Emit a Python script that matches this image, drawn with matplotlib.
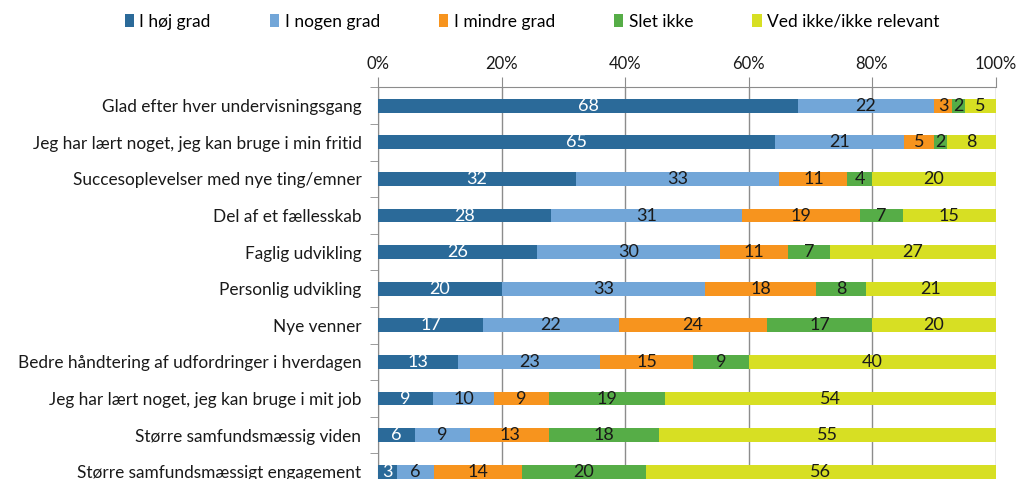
import numpy as np
import matplotlib
matplotlib.use("Agg")
import matplotlib.pyplot as plt
from matplotlib.ticker import PercentFormatter

plt.rcParams['font.family'] = ['Lato', 'DejaVu Sans']

categories = [
    "Glad efter hver undervisningsgang",
    "Jeg har lært noget, jeg kan bruge i min fritid",
    "Succesoplevelser med nye ting/emner",
    "Del af et fællesskab",
    "Faglig udvikling",
    "Personlig udvikling",
    "Nye venner",
    "Bedre håndtering af udfordringer i hverdagen",
    "Jeg har lært noget, jeg kan bruge i mit job",
    "Større samfundsmæssig viden",
    "Større samfundsmæssigt engagement",
]
series_names = ["I høj grad", "I nogen grad", "I mindre grad", "Slet ikke",
                "Ved ikke/ikke relevant"]
hoej = [68, 65, 32, 28, 26, 20, 17, 13, 9, 6, 3]
nogen = [22, 21, 33, 31, 30, 33, 22, 23, 10, 9, 6]
mindre = [3, 5, 11, 19, 11, 18, 24, 15, 9, 13, 14]
slet = [2, 2, 4, 7, 7, 8, 17, 9, 19, 18, 20]
vedikke = [5, 8, 20, 15, 27, 21, 20, 40, 54, 55, 56]

colors = ["#2b6a99", "#72a6d8", "#f7941e", "#56ad47", "#d7df23"]
text_colors = ["white", "#1a1a1a", "#1a1a1a", "#1a1a1a", "#1a1a1a"]

data = np.array([hoej, nogen, mindre, slet, vedikke], dtype=float)
shares = data / data.sum(axis=0) * 100  # 100% stacked

fig = plt.figure(figsize=(10.19, 4.79), dpi=100)
ax = fig.add_axes([0.371, -0.023, 0.606, 0.8405])

y = np.arange(len(categories))
left = np.zeros(len(categories))
for i, name in enumerate(series_names):
    bars = ax.barh(y, shares[i], left=left, height=0.38, color=colors[i],
                   label=name, zorder=3)
    for j, b in enumerate(bars):
        ax.text(left[j] + shares[i][j] / 2, y[j], f"{int(data[i][j])}",
                ha='center', va='center', fontsize=13, color=text_colors[i],
                zorder=4)
    left += shares[i]

ax.set_xlim(0, 100)
ax.set_ylim(len(categories) - 0.5, -0.5)
ax.xaxis.set_major_formatter(PercentFormatter(decimals=0))
ax.set_xticks([0, 20, 40, 60, 80, 100])
ax.xaxis.tick_top()
ax.tick_params(axis='x', length=7, color='#8c8c8c', labelsize=12,
               labelcolor='#1a1a1a', pad=4)
ax.grid(axis='x', color='#8c8c8c', linewidth=1, zorder=0)

ax.set_yticks(y)
ax.set_yticklabels(categories, fontsize=12.4, color='#1a1a1a')
ax.tick_params(axis='y', length=0, pad=12)
ax.set_yticks(np.arange(len(categories) + 1) - 0.5, minor=True)
ax.tick_params(axis='y', which='minor', length=6, color='#8c8c8c')

for s in ['bottom', 'right']:
    ax.spines[s].set_visible(False)
for s in ['top', 'left']:
    ax.spines[s].set_color('#8c8c8c')

fig.legend(loc='center', bbox_to_anchor=(0.522, 0.955), ncol=5, frameon=False,
           fontsize=12.5, handlelength=0.55, handleheight=0.75,
           handletextpad=0.3, columnspacing=3.4)

fig.savefig("out.png", dpi=100)
